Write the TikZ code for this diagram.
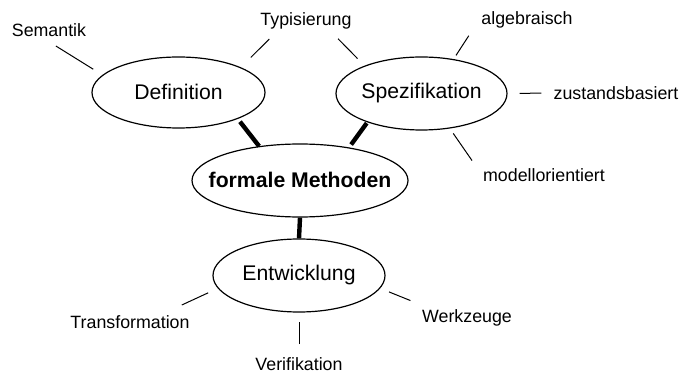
\documentclass[tikz,border=0pt]{standalone}
\usepackage{fontspec}
\setmainfont{Liberation Sans}
\usetikzlibrary{shapes.geometric}

% Text im Ellipsenknoten ohne eigene Breite, damit minimum width gilt
\newcommand{\ztxt}[1]{\makebox[0pt]{\raisebox{1pt}{#1}}}

\begin{document}
\begin{tikzpicture}[x=0.5pt, y=-0.5pt]
	\tikzset{n/.style={draw=black, ellipse, line width=0.6pt, inner sep=0pt,
		font=\fontsize{10.6}{12}\selectfont},
	w/.style={inner sep=0pt, font=\fontsize{8.9}{10}\selectfont},
	f/.style={line width=2.2pt},
	g/.style={line width=0.5pt}};

	\useasboundingbox (0,0) rectangle (683,373);

	% Ellipsen
	\node[n, minimum width=86.5pt, minimum height=35.5pt] (def) at (178.5,92.5) {\ztxt{Definition}};
	\node[n, minimum width=85.5pt, minimum height=36.5pt] (spe) at (421.5,93.5) {\ztxt{Spezifikation}};
	\node[n, minimum width=108pt, minimum height=36.5pt] (for) at (300,180.5) {\ztxt{\bfseries formale Methoden}};
	\node[n, minimum width=86pt, minimum height=36.5pt] (ent) at (299,275.5) {\ztxt{Entwicklung}};

	% Stichworte
	\node[w] (sem) at (49,30) {Semantik};
	\node[w] (typ) at (306,20.5) {Typisierung};
	\node[w] (alg) at (527,20) {algebraisch};
	\node[w] (zus) at (616,93) {zustandsbasiert};
	\node[w] (mod) at (544,175) {modellorientiert};
	\node[w] (tra) at (130,322) {Transformation};
	\node[w] (ver) at (299,364) {Verifikation};
	\node[w] (wer) at (467,318) {Werkzeuge};

	\draw[f, shorten <=1.75pt] (def.336.6) -- (for.140.8);
	\draw[f, shorten <=0.5pt, shorten >=1.75pt] (spe.208.5) -- (for.34.4);
	\draw[f] (for.south) -- (ent.north);

	\draw[g, shorten <=8.6pt, shorten >=5.4pt] (sem.222.5) -- (def.167.7);
	\draw[g, shorten <=7pt, shorten >=7pt] (typ.198.8) -- (def.22.3);
	\draw[g, shorten <=6.7pt, shorten >=5pt] (typ.339.6) -- (spe.154.1);
	\draw[g, shorten <=11.3pt, shorten >=2.2pt] (alg.176.8) -- (spe.47.6);
	\draw[g, shorten <=6pt, shorten >=6pt] (zus.west) -- (spe.east);
	\draw[g, shorten <=9.4pt, shorten >=3pt] (mod.181) -- (spe.309.4);
	\draw[g, shorten <=12pt, shorten >=5.3pt] (tra.13.5) -- (ent.189.3);
	\draw[g, shorten <=6.5pt, shorten >=4.5pt] (ver.north) -- (ent.south);
	\draw[g, shorten <=11.7pt, shorten >=4.75pt] (wer.166.1) -- (ent.351.7);
\end{tikzpicture}
\end{document}
